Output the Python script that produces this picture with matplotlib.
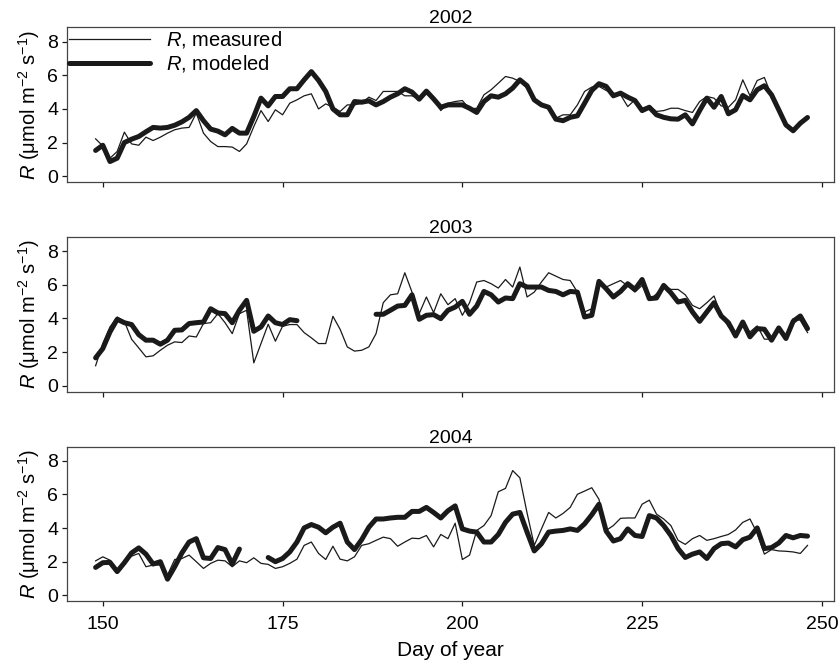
import numpy as np
import matplotlib
matplotlib.use('Agg')
import matplotlib.pyplot as plt

plt.rcParams['font.family'] = ['Liberation Sans', 'DejaVu Sans']
plt.rcParams['mathtext.fontset'] = 'custom'
plt.rcParams['mathtext.rm'] = 'Liberation Sans'
plt.rcParams['mathtext.it'] = 'Liberation Sans:italic'

days = np.arange(149, 249)
nan = np.nan

# 2002
meas_2002 = [2.22, 1.8, 1.07, 1.47, 2.62, 1.92, 1.84, 2.32, 2.12, 2.32,
             2.56, 2.76, 2.86, 2.9, 3.75, 2.56, 2.06, 1.76, 1.76, 1.73,
             1.47, 1.92, 2.95, 3.9, 3.25, 3.95, 3.65, 4.34, 4.54, 4.78,
             4.9, 4.0, 4.3, 4.1, 3.85, 4.24, 4.24, 4.34, 4.7, 4.5,
             5.04, 5.04, 5.04, 4.78, 4.78, 4.58, 4.9, 4.64, 3.9, 4.34, 4.44,
             4.5, 4.0, 4.04, 4.84, 5.14, 5.53, 5.93, 5.83, 5.63, 5.24,
             4.44, 4.18, 4.04, 3.45, 3.65, 3.65, 4.24, 5.04, 5.3, 5.34,
             5.1, 4.94, 4.84, 4.14, 4.54, 4.04, 4.18, 3.85, 3.9, 4.04,
             4.04, 3.9, 3.79, 4.44, 4.74, 4.64, 4.18, 4.1, 4.54, 5.73,
             4.78, 5.69, 5.87, 4.78, 4.04, 2.95, 2.76, 3.19, 3.41]
mod_2002 = [1.53, 1.84, 0.87, 1.07, 2.0, 2.2, 2.36, 2.64, 2.9, 2.86,
            2.9, 3.03, 3.23, 3.5, 3.9, 3.3, 2.8, 2.68, 2.46, 2.84,
            2.56, 2.56, 3.55, 4.64, 4.18, 4.74, 4.74, 5.2, 5.2, 5.73,
            6.22, 5.7, 5.04, 4.0, 3.65, 3.65, 4.44, 4.4, 4.48, 4.24,
            4.44, 4.7, 4.9, 5.2, 5.0, 4.58, 5.06, 4.6, 4.1, 4.24, 4.24,
            4.24, 4.04, 3.79, 4.44, 4.78, 4.7, 4.9, 5.24, 5.73, 5.38,
            4.54, 4.24, 4.1, 3.39, 3.3, 3.5, 3.59, 4.34, 5.1, 5.5,
            5.34, 4.78, 4.94, 4.7, 4.5, 3.9, 4.1, 3.65, 3.5, 3.41,
            3.39, 3.65, 3.11, 3.9, 4.64, 4.1, 4.74, 3.71, 3.95, 4.8,
            4.54, 5.14, 5.38, 4.84, 3.95, 3.05, 2.7, 3.15, 3.49]

# 2003
meas_2003 = [1.19, 2.51, 3.5, 4.09, 3.83, 2.77, 2.25, 1.72, 1.78, 2.11,
             2.41, 2.61, 2.57, 2.96, 2.9, 3.7, 3.75, 4.29, 3.75, 3.1,
             4.29, 4.49, 1.36, 2.51, 3.66, 2.65, 3.54, 3.64, 3.64, 3.16,
             2.85, 2.51, 2.51, 4.13, 3.36, 2.31, 2.06, 2.11, 2.31, 3.1,
             4.94, 5.41, 5.47, 6.72, 5.57, 4.29, 5.28, 4.35, 5.47, 4.82, 5.18,
             4.19, 4.94, 6.17, 6.26, 6.07, 5.81, 6.32, 5.87, 7.06, 5.28,
             5.57, 6.17, 6.72, 6.52, 6.32, 6.26, 5.57, 4.39, 4.58, 6.07,
             5.87, 6.07, 6.26, 5.93, 5.57, 5.97, 5.08, 5.47, 5.97, 5.73,
             5.73, 5.41, 4.78, 4.58, 4.94, 5.34, 4.19, 3.5, 3.0, 3.6,
             3.2, 3.56, 2.77, 2.77, 3.3, 2.9, 3.99, 3.89, 3.16]
mod_2003 = [1.66, 2.21, 3.2, 3.95, 3.75, 3.64, 3.04, 2.71, 2.71, 2.47,
            2.71, 3.3, 3.32, 3.7, 3.75, 3.79, 4.58, 4.33, 4.29, 3.75,
            4.49, 5.08, 3.24, 3.5, 4.15, 3.75, 3.64, 3.93, 3.87,
            nan, nan, nan, nan, nan, nan, nan, nan, nan, nan,
            4.25, 4.25, 4.49, 4.74, 4.78, 5.41, 3.95, 4.19, 4.23, 3.99, 4.49, 4.68,
            5.02, 4.25, 4.74, 5.61, 5.41, 4.98, 5.22, 5.18, 6.07, 5.87,
            5.87, 5.87, 5.67, 5.61, 5.41, 5.61, 5.57, 4.09, 4.19, 6.21,
            5.77, 5.28, 5.61, 6.07, 5.73, 6.32, 5.18, 5.22, 5.97, 5.53,
            4.98, 5.08, 4.39, 3.83, 4.39, 4.94, 4.15, 3.75, 2.96, 3.79,
            2.91, 3.4, 3.36, 2.71, 3.44, 2.81, 3.83, 4.15, 3.4]

# 2004
meas_2004 = [2.05, 2.29, 2.09, 1.55, 2.0, 2.33, 2.49, 1.7, 1.8, 1.8,
             1.21, 2.13, 2.19, 2.39, 2.0, 1.6, 1.9, 2.09, 2.05, 1.7,
             2.05, 1.94, 2.23, 1.9, 1.84, 1.6, 1.7, 1.9, 2.15, 2.97,
             3.17, 2.49, 2.13, 2.92, 2.15, 2.05, 2.29, 2.97, 3.07, 3.27,
             3.46, 3.37, 2.92, 3.17, 3.4, 3.37, 3.56, 2.88, 3.62, 3.37, 4.29,
             2.13, 2.39, 3.86, 4.15, 4.74, 6.16, 6.36, 7.42, 6.99, 4.9,
             2.97, 3.95, 4.93, 4.6, 4.87, 5.23, 6.01, 6.2, 6.4, 5.71,
             3.86, 4.15, 4.58, 4.6, 4.6, 5.42, 5.66, 4.83, 4.54, 4.15,
             3.27, 3.03, 3.37, 3.56, 3.27, 3.37, 3.5, 3.62, 3.89, 4.34,
             4.54, 3.7, 2.45, 2.72, 2.64, 2.62, 2.58, 2.49, 2.97]
mod_2004 = [1.66, 1.94, 1.96, 1.41, 1.94, 2.52, 2.82, 2.45, 1.86, 2.0,
            0.96, 1.7, 2.52, 3.17, 3.37, 2.23, 2.19, 2.84, 2.72, 1.86, 2.75,
            nan, nan, nan,
            2.25, 2.0, 2.19, 2.58, 3.17, 4.01, 4.21, 4.05, 3.72, 4.05,
            4.29, 3.17, 2.72, 3.31, 4.05, 4.54, 4.54, 4.6, 4.64, 4.64,
            4.99, 4.99, 5.23, 4.93, 4.6, 5.03, 5.32,
            3.95, 3.82, 3.76, 3.17, 3.17, 3.62, 4.34, 4.83, 4.93, 3.76,
            2.64, 3.07, 3.76, 3.82, 3.86, 3.95, 3.86, 4.25, 4.79, 5.42,
            3.82, 3.23, 3.37, 3.95, 3.56, 3.5, 4.74, 4.6, 4.15, 3.56,
            2.78, 2.25, 2.45, 2.58, 2.19, 2.78, 3.07, 3.11, 2.88, 3.31,
            3.46, 4.01, 2.78, 2.84, 3.11, 3.56, 3.42, 3.56, 3.52]

years = ['2002', '2003', '2004']
measured = [meas_2002, meas_2003, meas_2004]
modeled = [mod_2002, mod_2003, mod_2004]

ink = '#1a1a1a'
fig, axes = plt.subplots(3, 1, figsize=(8.4, 6.68), dpi=100, sharex=True)
fig.subplots_adjust(left=0.08, right=0.993, top=0.959, bottom=0.100, hspace=0.355)

for ax, year, m, p in zip(axes, years, measured, modeled):
    ax.plot(days, m, color=ink, lw=0.9, label=r'$\mathit{R}$, measured')
    ax.plot(days, p, color=ink, lw=3.6, label=r'$\mathit{R}$, modeled',
            solid_capstyle='round', solid_joinstyle='round')
    ax.set_title(year, fontsize=14, pad=2)
    ax.set_ylim(-0.35, 8.85)
    ax.set_yticks([0, 2, 4, 6, 8])
    ax.set_xlim(145.05, 251.7)
    ax.set_xticks([150, 175, 200, 225, 250])
    ax.set_ylabel(r'$\mathit{R}$ ($\mathrm{\mu}$mol m$^{-2}$ s$^{-1}$)', fontsize=14.5, labelpad=4)
    ax.tick_params(direction='out', length=3.5, width=0.9, labelsize=14, color=ink)
    ax.tick_params(axis='y', pad=3)
    ax.tick_params(axis='x', pad=7)
    for s in ax.spines.values():
        s.set_linewidth(0.9)
        s.set_color('#444444')

axes[0].legend(loc='upper left', frameon=False, fontsize=14.5, handlelength=4.0,
               borderaxespad=0.1, borderpad=0.0, labelspacing=0.15, handletextpad=0.8)
axes[2].set_xlabel('Day of year', fontsize=15, labelpad=6)

plt.savefig('out.png', dpi=100)
